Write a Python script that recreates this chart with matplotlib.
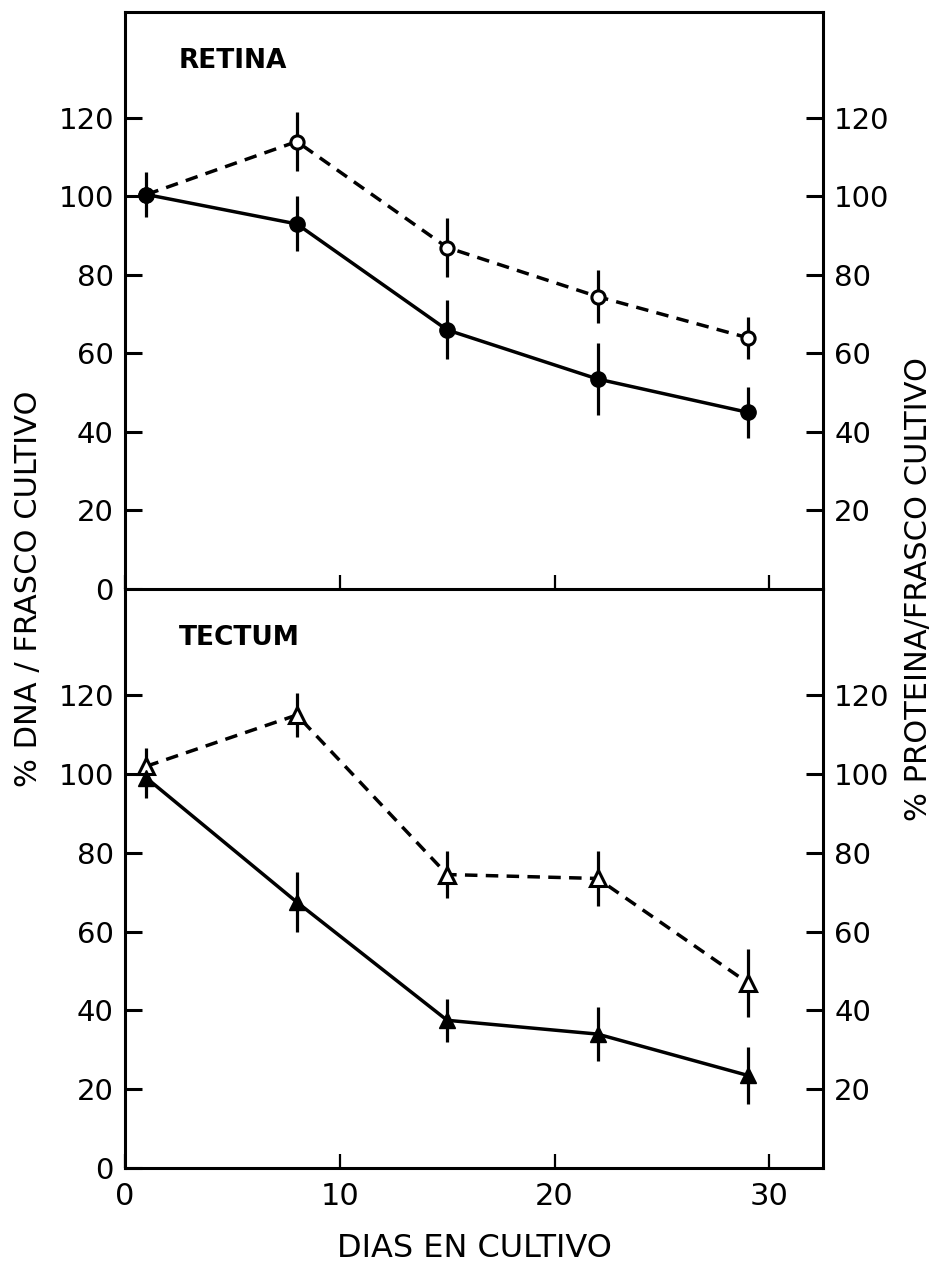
import matplotlib
matplotlib.use('Agg')
import matplotlib.pyplot as plt

# days in culture
dias = [1, 8, 15, 22, 29]

# RETINA: DNA (solid, filled circles) and protein (dashed, open circles)
ret_dna = [100.5, 93, 66, 53.5, 45]
ret_dna_err = [5.7, 7, 7.5, 9.2, 6.5]
ret_prot = [100.5, 114, 87, 74.5, 64]
ret_prot_err = [0, 7.5, 7.5, 6.8, 5.4]

# TECTUM: DNA (solid, filled triangles) and protein (dashed, open triangles)
tec_dna = [99, 67.5, 37.5, 34, 23.5]
tec_dna_err = [5, 7.6, 5.5, 6.8, 7.2]
tec_prot = [102, 115, 74.5, 73.5, 47]
tec_prot_err = [4.5, 5.5, 6, 7, 8.7]

left_ticks = [0, 20, 40, 60, 80, 100, 120]
right_ticks = [20, 40, 60, 80, 100, 120]
x_ticks = [0, 10, 20, 30]

plt.rcParams['font.family'] = ['DejaVu Sans']

fig = plt.figure(figsize=(9.42, 12.66), dpi=100)
ax_top = fig.add_axes([0.1327, 0.5348, 0.741, 0.4557])
ax_bot = fig.add_axes([0.1327, 0.0774, 0.741, 0.4574], sharex=ax_top)

lw = 2.5
dash = (0, (3.6, 2.4))


def draw(ax, y1, e1, y2, e2, m_fill, m_open, ms_fill, ms_open):
    ax.errorbar(dias, y2, yerr=e2, fmt='none', ecolor='k', elinewidth=2.3, zorder=2)
    ax.errorbar(dias, y1, yerr=e1, fmt='none', ecolor='k', elinewidth=2.3, zorder=2)
    ax.plot(dias, y2, color='k', lw=lw, linestyle=dash, marker=m_open,
            markersize=ms_open, markerfacecolor='white', markeredgecolor='k',
            markeredgewidth=2.2, zorder=3)
    ax.plot(dias, y1, color='k', lw=lw, marker=m_fill, markersize=ms_fill,
            markerfacecolor='k', markeredgecolor='k', zorder=4)


draw(ax_top, ret_dna, ret_dna_err, ret_prot, ret_prot_err, 'o', 'o', 11, 9.5)
draw(ax_bot, tec_dna, tec_dna_err, tec_prot, tec_prot_err, '^', '^', 12, 11.5)

for ax, title in [(ax_top, 'RETINA'), (ax_bot, 'TECTUM')]:
    ax.set_xlim(0, 32.5)
    ax.set_ylim(0, 147)
    ax.set_yticks(left_ticks)
    ax.set_xticks(x_ticks)
    for s in ax.spines.values():
        s.set_linewidth(2.2)
    ax.tick_params(axis='y', direction='in', length=12, width=2.2,
                   labelsize=21, pad=8)
    ax.tick_params(axis='x', direction='in', length=10, width=1.6,
                   labelsize=22, pad=10)
    ax.text(0.077, 0.915, title, transform=ax.transAxes, fontsize=19,
            fontweight='bold', ha='left', va='center')
    rax = ax.twinx()
    rax.set_ylim(0, 147)
    rax.set_yticks(right_ticks)
    rax.tick_params(axis='y', direction='in', length=12, width=2.2,
                    labelsize=21, pad=8)
    for s in rax.spines.values():
        s.set_visible(False)

ax_top.tick_params(axis='x', labelbottom=False)
ax_top.spines['bottom'].set_visible(False)

ax_bot.set_xlabel('DIAS EN CULTIVO', fontsize=23, labelpad=16)
fig.text(0.03, 0.535, '% DNA / FRASCO CULTIVO', rotation=90, fontsize=22,
         ha='center', va='center')
fig.text(0.975, 0.535, '% PROTEINA/FRASCO CULTIVO', rotation=90, fontsize=22,
         ha='center', va='center')

fig.savefig('out.png', dpi=100)
